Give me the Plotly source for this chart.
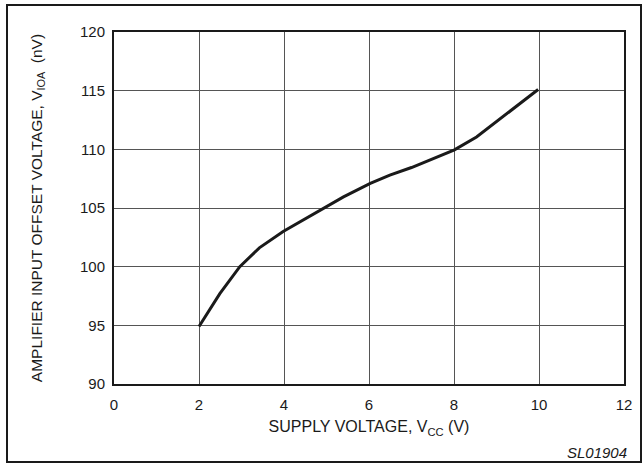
import plotly.graph_objects as go

supply_v = [2.0, 2.49, 2.96, 3.42, 3.98, 4.93, 5.40, 6.03, 6.49, 7.00, 7.51, 8.01, 8.53, 9.08, 9.98]
offset_nv = [94.9, 97.7, 100.0, 101.6, 103.0, 105.0, 105.95, 107.1, 107.8, 108.45, 109.2, 109.95, 111.05, 112.6, 115.1]

x_ticks = [0, 2, 4, 6, 8, 10, 12]
y_ticks = [90, 95, 100, 105, 110, 115, 120]

L, R, T, B = 114, 20, 32, 80
W, H = 644, 464
pw, ph = W - L - R, H - T - B

def px(xp):
    return (xp - L) / pw

def py(yp):
    return (H - B - yp) / ph

fig = go.Figure()
fig.add_trace(go.Scatter(x=supply_v, y=offset_nv, mode="lines",
                         line=dict(color="#1a1a1a", width=3), showlegend=False))

font = dict(family="Liberation Sans, Arial, sans-serif", size=15, color="#1a1a1a")

fig.update_layout(
    width=W, height=H,
    margin=dict(l=L, r=R, t=T, b=B),
    paper_bgcolor="white", plot_bgcolor="white",
    font=font,
    xaxis=dict(range=[0, 12], tickvals=x_ticks, showgrid=True, gridcolor="#555555", gridwidth=1,
               showline=True, linecolor="#1a1a1a", linewidth=2, mirror=True,
               zeroline=False, ticks="", ticklen=0, ticklabelstandoff=6,
               title=dict(text="SUPPLY VOLTAGE, V<sub>CC</sub> (V)", standoff=9, font=dict(size=16))),
    yaxis=dict(range=[90, 120], tickvals=y_ticks, showgrid=True, gridcolor="#555555", gridwidth=1,
               showline=True, linecolor="#1a1a1a", linewidth=2, mirror=True,
               zeroline=False, ticks="", ticklen=0, ticklabelstandoff=4,
               title=dict(text="AMPLIFIER INPUT OFFSET VOLTAGE, V<sub>IOA</sub>  (nV)", standoff=34, font=dict(size=15.5))),
    shapes=[dict(type="rect", xref="paper", yref="paper",
                 x0=px(7), x1=px(641), y0=py(462), y1=py(5),
                 line=dict(color="#1a1a1a", width=2), layer="below")],
    annotations=[dict(text="<i>SL01904</i>", xref="paper", yref="paper",
                      x=px(629), y=py(452), xanchor="right", yanchor="middle",
                      showarrow=False, font=dict(size=15))],
)

fig.write_html("out.html", config={"displayModeBar": False},
               post_script="document.body.style.margin='0px';")
